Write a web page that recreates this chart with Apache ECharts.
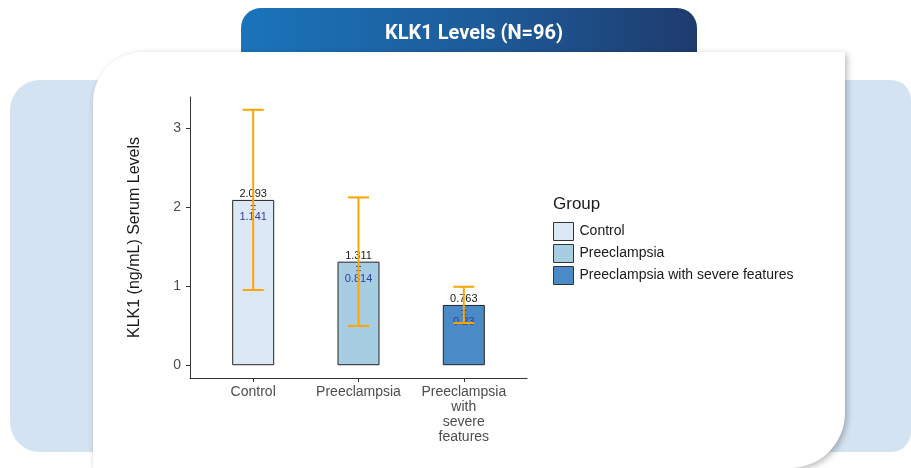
<!DOCTYPE html>
<html>
<head>
<meta charset="utf-8">
<script src="https://cdn.jsdelivr.net/npm/echarts@6/dist/echarts.min.js"></script>
<style>
html,body{margin:0;padding:0;background:#fff;}
#wrap{position:relative;width:911px;height:468px;overflow:hidden;background:#fff;}
#blue{position:absolute;left:10px;top:80px;width:901px;height:372px;background:#d4e3f2;border-radius:30px 20px 20px 30px;}
#banner{position:absolute;left:241px;top:8px;width:456px;height:60px;border-radius:20px 20px 0 0;background:linear-gradient(90deg,#1a74ba 0%,#1d5a98 55%,#1f3b6d 100%);}
#card{position:absolute;left:93px;top:52px;width:752px;height:416px;background:#fff;border-radius:50px 0 55px 0;box-shadow:2px 2px 6px rgba(0,0,0,0.28);}
#chart{position:absolute;left:0;top:0;width:911px;height:468px;}
</style>
</head>
<body>
<div id="wrap">
<div id="blue"></div>
<div id="banner"></div>
<div id="card"></div>
<div id="chart"></div>
</div>
<script>
const titleText = 'KLK1 Levels (N=96)';
const categories = ['Control', 'Preeclampsia', 'Preeclampsia with severe features'];
const axisLabels = ['Control', 'Preeclampsia', 'Preeclampsia\nwith\nsevere\nfeatures'];
const means = [2.093, 1.311, 0.763];
const sds = [1.141, 0.814, 0.23];
const colors = ['#dde8f7', '#a7cde3', '#4a8bc7'];
const yTicks = [0, 1, 2, 3];
const xPos = [1, 2, 3];

const chart = echarts.init(document.getElementById('chart'), null, {renderer: 'canvas'});
const font = 'Arial';

const barSeries = categories.map((c, i) => ({
  type: 'bar',
  name: c,
  stack: 'g',
  barWidth: 42,
  data: [[xPos[i], means[i]]],
  itemStyle: {color: colors[i], borderColor: '#222', borderWidth: 1},
  z: 2
}));

const errData = means.map((m, i) => [xPos[i], m, sds[i]]);

const errSeries = {
  type: 'custom',
  name: 'err',
  data: errData,
  z: 5,
  clip: false,
  renderItem: function (params, api) {
    const x = api.value(0), m = api.value(1), s = api.value(2);
    const top = api.coord([x, m + s]);
    const bot = api.coord([x, m - s]);
    const mid = api.coord([x, m]);
    const cap = api.size([0.2, 0])[0] / 2;
    const st = {stroke: '#ffa500', lineWidth: 2};
    return {
      type: 'group',
      children: [
        {type: 'text', style: {text: String(m), x: mid[0], y: mid[1] - 6, align: 'center', verticalAlign: 'middle', fill: '#1a1a1a', font: '11px Arial'}},
        {type: 'text', style: {text: '\u00b1', x: mid[0], y: mid[1] + 7, align: 'center', verticalAlign: 'middle', fill: '#2c3e9a', font: '10px Arial'}},
        {type: 'text', style: {text: String(s), x: mid[0], y: mid[1] + 17, align: 'center', verticalAlign: 'middle', fill: '#2c3e9a', font: '11px Arial'}},
        {type: 'line', shape: {x1: top[0], y1: top[1], x2: bot[0], y2: bot[1]}, style: st},
        {type: 'line', shape: {x1: top[0] - cap, y1: top[1], x2: top[0] + cap, y2: top[1]}, style: st},
        {type: 'line', shape: {x1: bot[0] - cap, y1: bot[1], x2: bot[0] + cap, y2: bot[1]}, style: st}
      ]
    };
  }
};

chart.setOption({
  animation: false,
  title: [
    {text: titleText, left: 469, top: 19, textAlign: 'center', textStyle: {color: '#fff', fontFamily: 'Roboto', fontWeight: 'bold', fontSize: 20}},
    {text: 'Group', left: 548, top: 191, textStyle: {color: '#1a1a1a', fontFamily: font, fontWeight: 'normal', fontSize: 17}}
  ],
  grid: {left: 190, right: 384, top: 97, bottom: 90, containLabel: false},
  legend: {
    orient: 'vertical', left: 548, top: 217,
    itemWidth: 20, itemHeight: 18, itemGap: 3,
    icon: 'rect',
    data: categories,
    itemStyle: {borderColor: '#333', borderWidth: 1},
    textStyle: {color: '#1a1a1a', fontFamily: font, fontSize: 14, padding: [0, 0, 0, 1]}
  },
  xAxis: {
    type: 'value', min: 0.4, max: 3.6,
    splitLine: {show: false},
    axisLine: {show: true, onZero: false, lineStyle: {color: '#333', width: 1}},
    axisTick: {show: true, customValues: xPos, length: 4, lineStyle: {color: '#333'}},
    axisLabel: {customValues: xPos, margin: 7, color: '#4d4d4d', fontFamily: font, fontSize: 14, lineHeight: 15,
      formatter: v => axisLabels[Math.round(v) - 1] || ''}
  },
  yAxis: {
    type: 'value', min: -0.162, max: 3.396,
    name: 'KLK1 (ng/mL) Serum Levels', nameLocation: 'middle', nameGap: 47,
    nameTextStyle: {color: '#1a1a1a', fontFamily: font, fontSize: 16},
    splitLine: {show: false},
    axisLine: {show: true, onZero: false, lineStyle: {color: '#333', width: 1}},
    axisTick: {show: true, customValues: yTicks, length: 4, lineStyle: {color: '#333'}},
    axisLabel: {customValues: yTicks, margin: 9, color: '#4d4d4d', fontFamily: font, fontSize: 14}
  },
  series: barSeries.concat([errSeries])
});
</script>
</body>
</html>
